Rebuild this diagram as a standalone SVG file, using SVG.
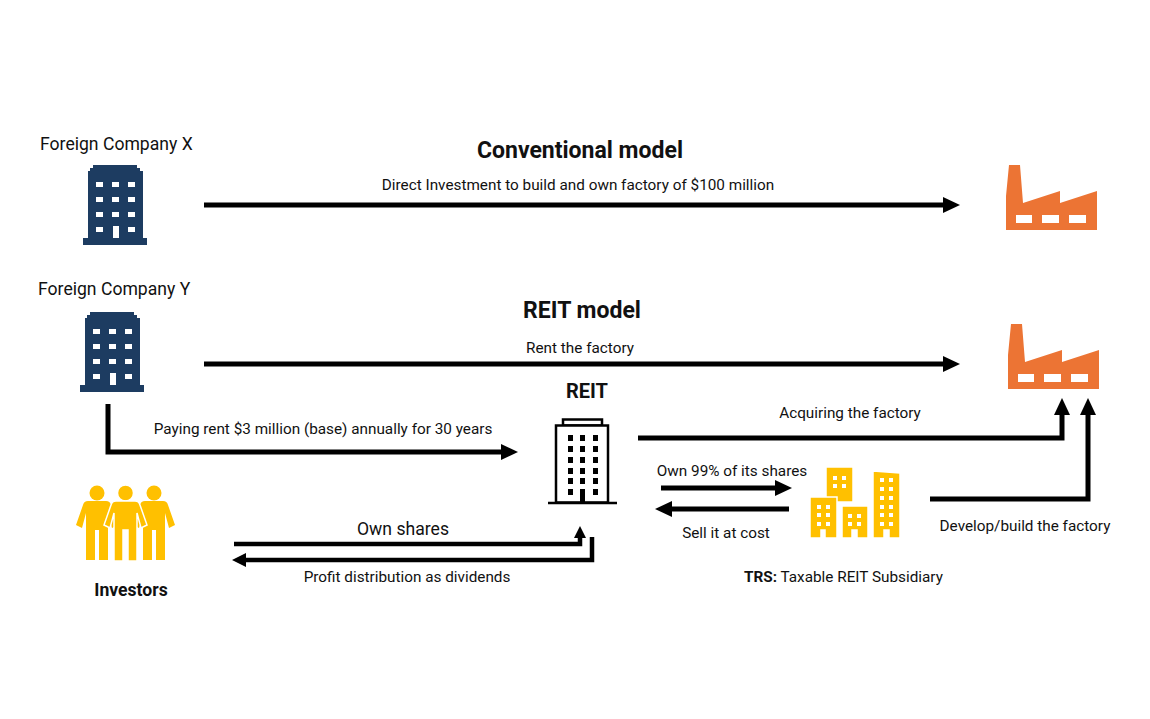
<svg xmlns="http://www.w3.org/2000/svg" xmlns:xlink="http://www.w3.org/1999/xlink" width="1150" height="719" viewBox="0 0 1150 719">
<style>
.t{font-family:Roboto,"Liberation Sans",Arial,sans-serif;fill:#111;}
.n{font-size:15.3px;}
.m{font-size:17.6px;}
.b{font-weight:bold;}
.h{font-size:23px;font-weight:bold;}
.ar{fill:none;stroke:#000;stroke-width:5;stroke-linejoin:miter;}
.ar4{fill:none;stroke:#000;stroke-width:4.5;stroke-linejoin:miter;}
.navy{fill:#1D3C61;}
.win{fill:#fff;}
.org{fill:#EC7434;}
.yel{fill:#FFC000;}
.ybld{fill:#FFC000;stroke:#fff;stroke-width:1.5;}
</style>
<defs>
<marker id="ah" markerUnits="userSpaceOnUse" markerWidth="18" markerHeight="18" viewBox="0 -9 18 18" refX="4" refY="0" orient="auto">
<path d="M0,-8 L17,0 L0,8 Z" fill="#000"/>
</marker>
<marker id="ahm" markerUnits="userSpaceOnUse" markerWidth="16" markerHeight="16" viewBox="0 -8 16 16" refX="3" refY="0" orient="auto">
<path d="M0,-7 L14,0 L0,7 Z" fill="#000"/>
</marker>
<marker id="ahs" markerUnits="userSpaceOnUse" markerWidth="14" markerHeight="14" viewBox="0 -7 14 14" refX="3" refY="0" orient="auto">
<path d="M0,-6 L12,0 L0,6 Z" fill="#000"/>
</marker>
<g id="company">
<path class="navy" d="M93,165 H137 V168 H140 V171 H143 V238 H147 V245 H83 V238 H88 V171 H90 V168 H93 Z"/>
<g class="win">
<rect x="96" y="182" width="7" height="5"/><rect x="112" y="182" width="7" height="5"/><rect x="128" y="182" width="7" height="5"/>
<rect x="96" y="197" width="7" height="5"/><rect x="112" y="197" width="7" height="5"/><rect x="128" y="197" width="7" height="5"/>
<rect x="96" y="212" width="7" height="5"/><rect x="112" y="212" width="7" height="5"/><rect x="128" y="212" width="7" height="5"/>
<rect x="96" y="227" width="7" height="5"/><rect x="113" y="226" width="6" height="12"/><rect x="128" y="227" width="7" height="5"/>
</g>
</g>
<g id="factory">
<path class="org" d="M1006,230 V196 L1009,165 H1020 L1023,203 L1060,191 V203 L1097,191 V230 Z"/>
<g class="win">
<rect x="1016" y="215" width="16" height="8"/><rect x="1042" y="215" width="17" height="8"/><rect x="1069" y="215" width="17" height="8"/>
</g>
</g>
</defs>
<rect width="1150" height="719" fill="#fff"/>

<g id="connectors">
<path class="ar" d="M204,205 H947" marker-end="url(#ah)"/>
<path class="ar" d="M204,364 H947" marker-end="url(#ah)"/>
<path class="ar" d="M108,404 V452 H505" marker-end="url(#ah)"/>
<path class="ar" d="M638,438 H1062 V411" marker-end="url(#ah)"/>
<path class="ar" d="M930,499 H1088 V411" marker-end="url(#ah)"/>
<path class="ar" d="M661,488 H779" marker-end="url(#ah)"/>
<path class="ar" d="M789,509 H668" marker-end="url(#ah)"/>
<path class="ar4" d="M234,544 H580 V535" marker-end="url(#ahs)"/>
<path class="ar4" d="M592,537 V560 H243" marker-end="url(#ahm)"/>
</g>

<g id="labels">
<text class="t h" x="580" y="158" text-anchor="middle">Conventional model</text>
<text class="t n" x="578" y="190" text-anchor="middle">Direct Investment to build and own factory of $100 million</text>
<text class="t h" x="582" y="318" text-anchor="middle">REIT model</text>
<text class="t n" x="580" y="353" text-anchor="middle">Rent the factory</text>
<text class="t n" x="323" y="434" text-anchor="middle">Paying rent $3 million (base) annually for 30 years</text>
<text class="t n" x="850" y="418" text-anchor="middle">Acquiring the factory</text>
<text class="t n" x="732" y="476" text-anchor="middle">Own 99% of its shares</text>
<text class="t n" x="726" y="538" text-anchor="middle">Sell it at cost</text>
<text class="t n" x="1025" y="531" text-anchor="middle">Develop/build the factory</text>
<text class="t m" x="403" y="535" text-anchor="middle">Own shares</text>
<text class="t n" x="407" y="582" text-anchor="middle">Profit distribution as dividends</text>
</g>

<g id="company-x">
<text class="t m" x="40" y="150">Foreign Company X</text>
<use xlink:href="#company"/>
</g>

<g id="company-y">
<text class="t m" x="38" y="295">Foreign Company Y</text>
<use xlink:href="#company" transform="translate(-3,147)"/>
</g>

<g id="factory-conventional">
<use xlink:href="#factory"/>
</g>

<g id="factory-reit">
<use xlink:href="#factory" transform="translate(2,159)"/>
</g>

<g id="reit">
<text class="t b" x="587" y="398" text-anchor="middle" font-size="20">REIT</text>
<rect x="563" y="419.5" width="39" height="6" fill="#fff" stroke="#000" stroke-width="2.5"/>
<rect x="556" y="425.5" width="52" height="77" fill="#fff" stroke="#000" stroke-width="2.5"/>
<line x1="548" y1="503" x2="617" y2="503" stroke="#000" stroke-width="2.5"/>
<g fill="#000">
<rect x="568" y="435" width="5" height="6"/><rect x="580" y="435" width="5" height="6"/><rect x="593" y="435" width="5" height="6"/>
<rect x="568" y="446" width="5" height="6"/><rect x="580" y="446" width="5" height="6"/><rect x="593" y="446" width="5" height="6"/>
<rect x="568" y="457" width="5" height="6"/><rect x="580" y="457" width="5" height="6"/><rect x="593" y="457" width="5" height="6"/>
<rect x="568" y="468" width="5" height="6"/><rect x="580" y="468" width="5" height="6"/><rect x="593" y="468" width="5" height="6"/>
<rect x="568" y="478" width="5" height="6"/><rect x="580" y="478" width="5" height="6"/><rect x="593" y="478" width="5" height="6"/>
<rect x="568" y="489" width="5" height="6"/><rect x="580" y="489" width="5" height="13"/><rect x="593" y="489" width="5" height="6"/>
</g>
</g>

<g id="trs">
<rect class="ybld" x="826" y="467" width="27" height="35"/>
<g class="win">
<rect x="833" y="476" width="4" height="4"/><rect x="842" y="476" width="4" height="4"/>
<rect x="833" y="484" width="4" height="4"/><rect x="842" y="484" width="4" height="4"/>
</g>
<path class="ybld" d="M810,497 H837 V538 H825 V530 H821 V538 H810 Z"/>
<g class="win">
<rect x="817" y="505" width="4" height="4"/><rect x="826" y="505" width="4" height="4"/>
<rect x="817" y="513" width="4" height="4"/><rect x="826" y="513" width="4" height="4"/>
<rect x="817" y="522" width="4" height="4"/><rect x="826" y="522" width="4" height="4"/>
</g>
<path class="ybld" d="M842,506 H868 V538 H857 V530 H852 V538 H842 Z"/>
<g class="win">
<rect x="848" y="514" width="4" height="4"/><rect x="857" y="514" width="4" height="4"/>
<rect x="848" y="522" width="4" height="4"/><rect x="857" y="522" width="4" height="4"/>
</g>
<path class="ybld" d="M873,471 L900,473 V538 H889 V530 H884 V538 H873 Z"/>
<g class="win">
<rect x="880" y="478" width="4" height="4"/><rect x="889" y="478" width="4" height="4"/>
<rect x="880" y="487" width="4" height="4"/><rect x="889" y="487" width="4" height="4"/>
<rect x="880" y="496" width="4" height="4"/><rect x="889" y="496" width="4" height="4"/>
<rect x="880" y="505" width="4" height="4"/><rect x="889" y="505" width="4" height="4"/>
<rect x="880" y="513" width="4" height="4"/><rect x="889" y="513" width="4" height="4"/>
<rect x="880" y="522" width="4" height="4"/><rect x="889" y="522" width="4" height="4"/>
</g>
<text class="t n" x="744" y="582"><tspan class="b">TRS:</tspan> Taxable REIT Subsidiary</text>
</g>

<g id="investors">
<g class="yel">
<circle cx="97" cy="493" r="7.5"/>
<path d="M88,501 H106 Q110,501 111,505 L118,525 L112,528 L108,513 V560 H99 V530 H95 V560 H86 V513 L82,528 L76,525 L83,505 Q84,501 88,501 Z"/>
<circle cx="154" cy="493" r="7.5"/>
<path d="M145,501 H163 Q167,501 168,505 L175,525 L169,528 L165,513 V560 H156 V530 H152 V560 H143 V513 L139,528 L133,525 L140,505 Q141,501 145,501 Z"/>
</g>
<g class="yel" stroke="#fff" stroke-width="1.5">
<circle cx="125.5" cy="493" r="8"/>
<path d="M116,501 H135 Q139,501 140,505 L147,525 L141,528 L137,513 V561 H128 V530 H123 V561 H114 V513 L110,528 L104,525 L111,505 Q112,501 116,501 Z"/>
</g>
<text class="t m b" x="131" y="596" text-anchor="middle">Investors</text>
</g>
</svg>
